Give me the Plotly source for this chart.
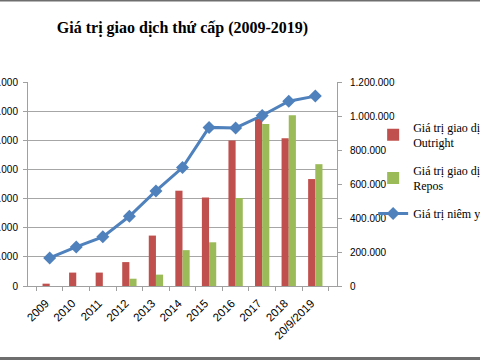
import plotly.graph_objects as go

years = ["2009", "2010", "2011", "2012", "2013", "2014", "2015", "2016", "2017", "2018", "20/9/2019"]
outright = [16000, 92000, 92000, 164000, 346000, 654000, 608000, 998000, 1146000, 1014000, 734000]
repos = [0, 0, 0, 50000, 78000, 246000, 300000, 604000, 1112000, 1172000, 836000]
listed = [165000, 230000, 289000, 410000, 559000, 697000, 933000, 930000, 1003000, 1087000, 1117000]

left_ticks = [0, 200000, 400000, 600000, 800000, 1000000, 1200000, 1400000]
right_ticks = [0, 200000, 400000, 600000, 800000, 1000000, 1200000]


def fmt(v):
    return f"{v:,}".replace(",", ".")


fig = go.Figure()
fig.add_trace(go.Bar(x=years, y=outright, name="Giá trị giao dịch<br>Outright",
                     legendgroup="a", marker_color="#C0504D", marker_line_width=0))
fig.add_trace(go.Bar(x=years, y=repos, name="Giá trị giao dịch<br>Repos",
                     legendgroup="b", marker_color="#9BBB59", marker_line_width=0))
fig.add_trace(go.Scatter(x=years, y=listed, name="Giá trị niêm yết", yaxis="y2",
                         legendgroup="c", mode="lines+markers",
                         line=dict(color="#4F81BD", width=3),
                         marker=dict(symbol="diamond", size=10, color="#4F81BD")))

axis_font = dict(family="Liberation Sans, Arial, sans-serif", size=10, color="#000000")
x_font = dict(family="Liberation Sans, Arial, sans-serif", size=11.5, color="#000000")

PH = 204  # plot height in px
fig.update_layout(
    width=480, height=360,
    margin=dict(l=28, r=143, t=82, b=74, autoexpand=False),
    paper_bgcolor="white", plot_bgcolor="white",
    barmode="group", bargap=0.46, bargroupgap=0,
    title=dict(text="<b>Giá trị giao dịch thứ cấp (2009-2019)</b>",
               x=0.5, xref="paper", xanchor="center", y=0.925, yanchor="middle",
               font=dict(family="Liberation Serif, Times New Roman, serif", size=16, color="#000000")),
    xaxis=dict(type="category", tickangle=-45, tickfont=x_font,
               showline=True, linecolor="#A0A0A0", linewidth=1,
               ticks="outside", tickson="boundaries", ticklen=4, tickcolor="#A0A0A0",
               ticklabelshift=-4, ticklabelstandoff=5,
               showgrid=False, automargin=False),
    yaxis=dict(range=[0, 1400000], tickvals=left_ticks, ticktext=[fmt(v) for v in left_ticks],
               tickfont=axis_font, showline=True, linecolor="#A0A0A0", linewidth=1,
               ticks="outside", ticklen=4, tickcolor="#A0A0A0", ticklabelstandoff=3,
               showgrid=True, gridcolor="#A6A6A6", gridwidth=1, zeroline=False,
               automargin=False),
    yaxis2=dict(range=[0, 1200000], tickvals=right_ticks, ticktext=[fmt(v) for v in right_ticks],
                tickfont=axis_font, overlaying="y", side="right",
                showline=True, linecolor="#A0A0A0", linewidth=1,
                ticks="outside", ticklen=4, tickcolor="#A0A0A0", ticklabelstandoff=6,
                showgrid=False, zeroline=False, automargin=False),
    legend=dict(x=1.117, y=0.85, xanchor="left", yanchor="top",
                font=dict(family="Liberation Serif, Times New Roman, serif", size=12, color="#000000"),
                bgcolor="rgba(0,0,0,0)", itemwidth=30, tracegroupgap=9),
    shapes=[
        dict(type="line", xref="paper", yref="paper", x0=-28/309, x1=452/309,
             y0=(286 - 0.75) / PH, y1=(286 - 0.75) / PH,
             line=dict(color="#6E6E6E", width=1.5)),
        dict(type="line", xref="paper", yref="paper", x0=-28/309, x1=452/309,
             y0=(286 - 358.5) / PH, y1=(286 - 358.5) / PH,
             line=dict(color="#6E6E6E", width=3)),
    ],
)

fig.write_html("out.html", config={"displayModeBar": False},
               post_script="document.body.style.margin='0';")
